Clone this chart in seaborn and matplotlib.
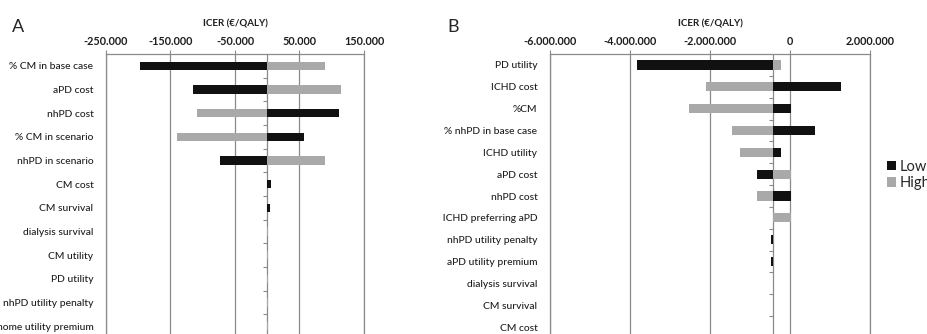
import numpy as np
import pandas as pd
import matplotlib
matplotlib.use("Agg")
import matplotlib.pyplot as plt
import matplotlib.markers as mmarkers
from matplotlib.patches import Patch
from matplotlib.ticker import FuncFormatter, FixedLocator
from matplotlib.transforms import Bbox
import seaborn as sns

# -----------------------------------------------------------
# Data (ICER, €/QALY)
# -----------------------------------------------------------
params_a = ["% CM in base case", "aPD cost", "nhPD cost", "% CM in scenario",
            "nhPD in scenario", "CM cost", "CM survival", "dialysis survival",
            "CM utility", "PD utility", "nhPD utility penalty", "home utility premium"]
low_a = [-197000, -115000, 111000, 57000, -74000, 5500, 4000, 0, 0, 0, 0, 0]
high_a = [90000, 115000, -109000, -140000, 90000, 0, 0, 1000, 1500, 1500, 1000, 1500]
base_a = 0
ticks_a = [-250000, -150000, -50000, 50000, 150000]

params_b = ["PD utility", "ICHD cost", "%CM", "% nhPD in base case", "ICHD utility",
            "aPD cost", "nhPD cost", "% of ICHD preferring aPD", "nhPD utility penalty",
            "aPD utility premium", "dialysis survival", "CM survival", "CM cost"]
low_b = [-3830000, 1270000, 17000, 617000, -233000, -833000, 17000, -425000,
         -475000, -475000, -425000, -425000, -425000]
high_b = [-215000, -2100000, -2515000, -1450000, -1250000, 17000, -833000, 17000,
          -425000, -425000, -425000, -425000, -425000]
base_b = -425000
ticks_b = [-6000000, -4000000, -2000000, 0, 2000000]

levels = ["Low", "High"]
colors = {"Low": "#111111", "High": "#a9a9a9"}
GRID = "#8a8a8a"
TXT = "#1e1e1e"

sns.set_theme(style="white")
plt.rcParams["font.family"] = ["Lato", "DejaVu Sans"]

W, H = 928, 334
fig = plt.figure(figsize=(W / 100, H / 100), dpi=100)


def eu(v):
    return f"{int(round(v)):,}".replace(",", ".")


def tornado(ax, params, low, high, base, ticks, bar_w):
    df = pd.DataFrame({
        "param": params * 2,
        "level": ["Low"] * len(params) + ["High"] * len(params),
        "value": list(low) + list(high),
    })
    # bars start at the base-case ICER, so plot the shift from it
    df["delta"] = df["value"] - base
    sns.barplot(data=df, x="delta", y="param", hue="level", order=params,
                hue_order=levels, palette=colors, dodge=False, orient="h",
                width=bar_w, saturation=1, errorbar=None, legend=False,
                linewidth=0, ax=ax)
    ax.set_xlim(ticks[0] - base, ticks[-1] - base)
    ax.set_ylim(len(params) - 0.5, -0.5)
    ax.xaxis.set_major_locator(FixedLocator([t - base for t in ticks]))
    ax.xaxis.set_major_formatter(FuncFormatter(lambda v, p: eu(v + base)))
    ax.xaxis.tick_top()
    ax.tick_params(axis="x", direction="out", length=3, width=0.8, color=GRID,
                   labelsize=7.8, pad=2)
    for lbl in ax.get_xticklabels():
        lbl.set_fontweight("bold")
        lbl.set_color(TXT)
    ax.tick_params(axis="y", length=0, labelsize=7.4, pad=9)
    for lbl in ax.get_yticklabels():
        lbl.set_color(TXT)
        lbl.set_fontweight("medium")
    ax.set_xlabel("")
    ax.set_ylabel("")
    ax.grid(axis="x", color=GRID, lw=0.9)
    ax.set_axisbelow(True)
    for s in ["top", "left", "right"]:
        ax.spines[s].set_color(GRID)
        ax.spines[s].set_linewidth(0.9)
    ax.spines["bottom"].set_visible(False)
    # category axis at the base case with small ticks between rows
    ax.axvline(0, color=GRID, lw=0.9, zorder=0.5)
    bounds = np.arange(len(params) - 1) + 0.5
    ax.plot(np.zeros_like(bounds), bounds, ls="none", marker=mmarkers.TICKLEFT,
            ms=3, mew=0.8, color=GRID)


top = 1 - 54 / H
bottom = 1 - 338 / H
axA = fig.add_axes([106 / W, bottom, (364 - 106) / W, top - bottom])
axB = fig.add_axes([550 / W, bottom, (870 - 550) / W, top - bottom])

tornado(axA, params_a, low_a, high_a, base_a, ticks_a, 0.36)
tornado(axB, params_b, low_b, high_b, base_b, ticks_b, 0.42)

# panel B is a separate image in the original: its labels are cut at x=440
clip = Bbox.from_extents(440, 0, W, H)
for lbl in axB.get_yticklabels():
    lbl.set_clip_on(True)
    lbl.set_clip_box(clip)

for ax in (axA, axB):
    pos = ax.get_position()
    fig.text((pos.x0 + pos.x1) / 2, 1 - 24 / H, "ICER (€/QALY)", ha="center",
             va="center", fontsize=7, fontweight="bold", color=TXT)

fig.text(12 / W, 1 - 27 / H, "A", fontsize=13, va="center", ha="left")
fig.text(447 / W, 1 - 27 / H, "B", fontsize=13, va="center", ha="left")

handles = [Patch(facecolor=colors[k], edgecolor="none", label=k) for k in levels]
fig.legend(handles=handles, loc="upper left", bbox_to_anchor=(887 / W, 1 - 160 / H),
           frameon=False, fontsize=10.5, handlelength=0.6, handleheight=0.6,
           handletextpad=0.3, labelspacing=0.15, borderpad=0, borderaxespad=0)

fig.savefig("out.png", dpi=100)
